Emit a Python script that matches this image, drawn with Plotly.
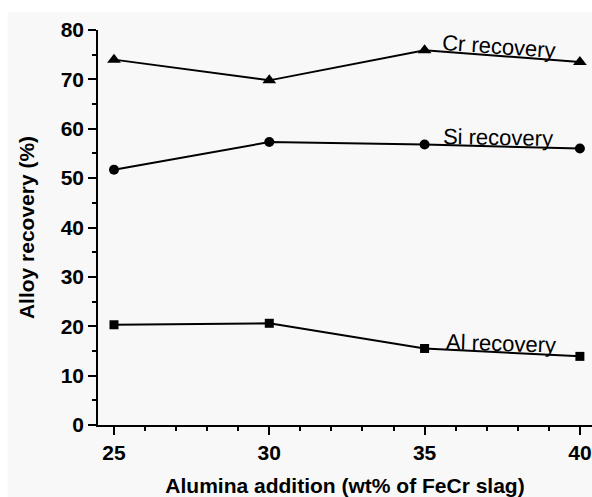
import plotly.graph_objects as go

# Alumina addition (wt% of FeCr slag)
alumina = [25, 30, 35, 40]

# Alloy recovery (%)
cr_recovery = [74.0, 69.8, 75.9, 73.5]
si_recovery = [51.7, 57.3, 56.8, 56.0]
al_recovery = [20.3, 20.6, 15.5, 13.9]

x_ticks = [25, 30, 35, 40]
y_ticks = [0, 10, 20, 30, 40, 50, 60, 70, 80]

series = [
    ("Cr recovery", cr_recovery, "triangle-up", 12),
    ("Si recovery", si_recovery, "circle", 10),
    ("Al recovery", al_recovery, "square", 9),
]

# label placement (data units) and tilt following each line
labels = [
    ("Cr recovery", 37.4, 76.6, 4),
    ("Si recovery", 37.35, 58.2, 1),
    ("Al recovery", 37.45, 16.6, 1.7),
]

FONT = "Liberation Sans, Arial, sans-serif"

fig = go.Figure()
for name, vals, sym, size in series:
    fig.add_trace(go.Scatter(
        x=alumina, y=vals, mode="lines+markers", name=name,
        line=dict(color="black", width=2),
        marker=dict(symbol=sym, size=size, color="black"),
        cliponaxis=False, showlegend=False,
    ))

for text, x, y, ang in labels:
    fig.add_annotation(
        x=x, y=y, text=text, showarrow=False, textangle=ang,
        font=dict(family=FONT, size=22, color="black"),
    )

axis_common = dict(
    showline=True, linecolor="black", linewidth=1.5,
    ticks="outside", ticklen=8, tickwidth=1.5, tickcolor="black",
    showgrid=False, zeroline=False,
    tickfont=dict(family=FONT, size=21, color="black", weight="bold"),
    title_font=dict(family=FONT, size=21, color="black", weight="bold"),
)

fig.update_xaxes(
    range=[24.485, 40.39], tickvals=x_ticks,
    minor=dict(dtick=1, tick0=25, ticks="outside", ticklen=4, tickwidth=1.5, tickcolor="black"),
    title_text="Alumina addition (wt% of FeCr slag)", title_standoff=18,
    **axis_common,
)
fig.update_yaxes(
    range=[0, 80], tickvals=y_ticks,
    minor=dict(dtick=5, tick0=0, ticks="outside", ticklen=4, tickwidth=1.5, tickcolor="black"),
    title_text="Alloy recovery (%)", title_standoff=20,
    **axis_common,
)

bg = "#f8f8f8"
fig.update_layout(
    width=592, height=497,
    margin=dict(l=98, r=0, t=30, b=67),
    paper_bgcolor=bg, plot_bgcolor=bg,
    shapes=[
        dict(type="rect", xref="paper", yref="paper", x0=-0.25, x1=1.05,
             y0=1.045, y1=1.1, fillcolor="white", line_width=0, layer="below"),
        dict(type="rect", xref="paper", yref="paper", x0=-0.25, x1=-0.183,
             y0=-0.2, y1=1.1, fillcolor="white", line_width=0, layer="below"),
    ],
)

fig.write_html("out.html")
